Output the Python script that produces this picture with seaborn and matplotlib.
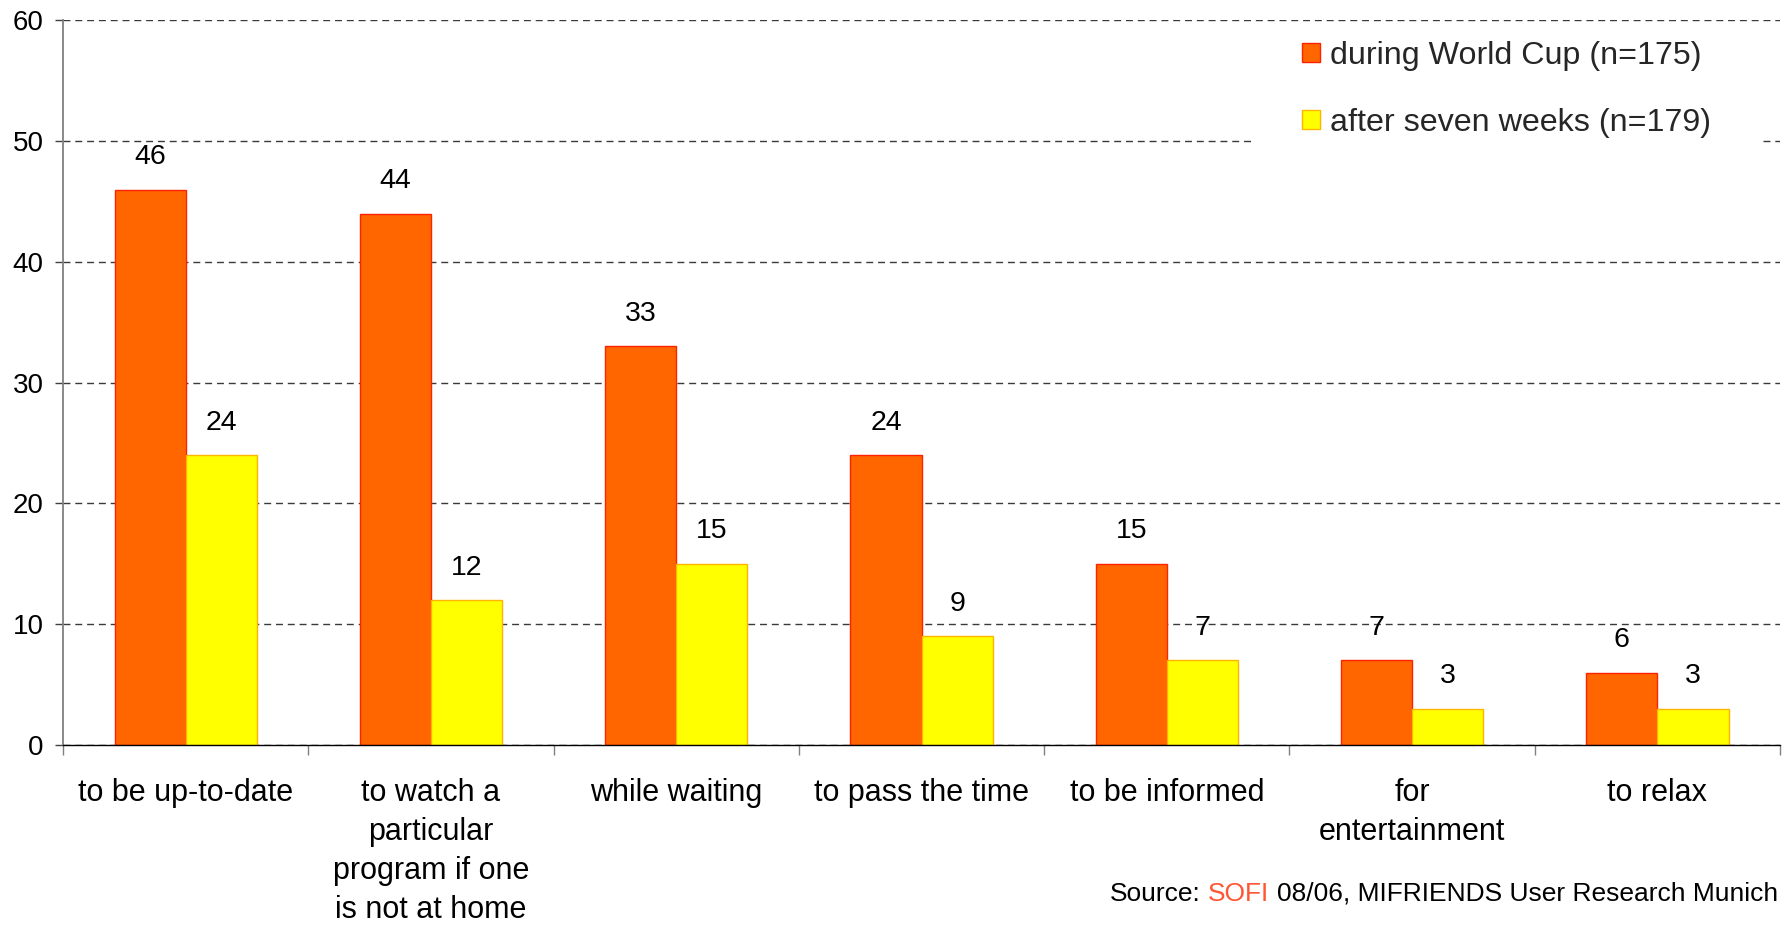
import numpy as np
import pandas as pd
import matplotlib
matplotlib.use("Agg")
import matplotlib.pyplot as plt
from matplotlib.patches import Rectangle
import seaborn as sns

# Reasons for mobile TV use, share of respondents in percent
reasons = [
    "to be up-to-date",
    "to watch a\nparticular\nprogram if one\nis not at home",
    "while waiting",
    "to pass the time",
    "to be informed",
    "for\nentertainment",
    "to relax",
]
during_cup = [46, 44, 33, 24, 15, 7, 6]
after_weeks = [24, 12, 15, 9, 7, 3, 3]
series_names = ["during World Cup (n=175)", "after seven weeks (n=179)"]
y_ticks = [0, 10, 20, 30, 40, 50, 60]

fill_colors = ["#FF6600", "#FFFF00"]
edge_colors = ["#FF2200", "#FFB400"]

df = pd.DataFrame({
    "reason": reasons * 2,
    "share": during_cup + after_weeks,
    "period": [series_names[0]] * len(reasons) + [series_names[1]] * len(reasons),
})

sns.set_theme(style="white")
plt.rcParams["font.family"] = ["Liberation Sans", "DejaVu Sans"]

fig = plt.figure(figsize=(17.87, 9.26), dpi=100)
ax = fig.add_axes([0.03525, 0.1955, 0.9961 - 0.03525, 0.9779 - 0.1955])

sns.barplot(
    data=df, x="reason", y="share", hue="period",
    order=reasons, hue_order=series_names,
    palette=fill_colors, saturation=1, width=0.58, gap=0,
    errorbar=None, ax=ax,
)

for container, ec in zip(ax.containers, edge_colors):
    for bar in container:
        bar.set_edgecolor(ec)
        bar.set_linewidth(1.0)
    ax.bar_label(container, fmt="{:.0f}", padding=14, fontsize=20.5, color="black")

# axes, ticks and grid
ax.set_xlim(-0.5, len(reasons) - 0.5)
ax.set_ylim(0, 60)
ax.set_yticks(y_ticks)
ax.set_xlabel("")
ax.set_ylabel("")
ax.set_xticks(range(len(reasons)))
ax.set_xticklabels(reasons, fontsize=22, linespacing=1.39)
ax.set_xticks(np.arange(-0.5, len(reasons), 1.0), minor=True)
ax.tick_params(axis="x", which="major", length=0, pad=24, colors="black")
ax.tick_params(axis="x", which="minor", bottom=True, length=7, width=1,
               color="#808080", direction="out")
ax.tick_params(axis="y", left=True, length=6, width=1, color="#404040",
               labelsize=20, pad=8, labelcolor="black", direction="out")

ax.set_axisbelow(True)
ax.yaxis.grid(True, linestyle=(0, (5, 3.5)), color="#3a3a3a", linewidth=1.0)
ax.xaxis.grid(False)

for side in ("top", "right"):
    ax.spines[side].set_visible(False)
ax.spines["left"].set_color("#808080")
ax.spines["left"].set_linewidth(1.3)
ax.spines["bottom"].set_color("black")
ax.spines["bottom"].set_linewidth(1.0)

# legend on a white panel
ax.add_patch(Rectangle((0.6937, 0.807), 0.2952, 0.173, transform=ax.transAxes,
                       facecolor="white", edgecolor="none", zorder=0.8))
handles, labels = ax.get_legend_handles_labels()
for h, ec in zip(handles, edge_colors):
    h.set_edgecolor(ec)
    h.set_linewidth(1.0)
ax.legend(handles, labels, loc="upper left",
          bbox_to_anchor=(1302 / 1787, 1 - 41 / 926), bbox_transform=fig.transFigure,
          frameon=False, borderpad=0, borderaxespad=0,
          handlelength=0.56, handleheight=0.56, handletextpad=0.3,
          labelspacing=1.15, fontsize=23.2)

# source line
t_rest = fig.text(1778 / 1787, 0.0216, "08/06, MIFRIENDS User Research Munich",
                  ha="right", va="bottom", fontsize=19, color="black")
t_sofi = ax.annotate("SOFI", xy=(0, 0), xycoords=t_rest, xytext=(-5.3, 0),
                     textcoords="offset points", ha="right", va="bottom",
                     fontsize=19, color="#FF5533", annotation_clip=False)
ax.annotate("Source:", xy=(0, 0), xycoords=t_sofi, xytext=(-5.3, 0),
            textcoords="offset points", ha="right", va="bottom",
            fontsize=19, color="black", annotation_clip=False)

fig.savefig("out.png", dpi=100)
